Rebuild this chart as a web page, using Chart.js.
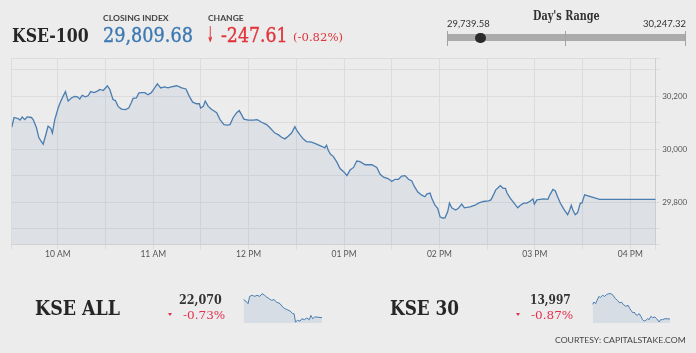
<!DOCTYPE html>
<html><head><meta charset="utf-8">
<script src="https://cdn.jsdelivr.net/npm/chart.js@4.4.1/dist/chart.umd.min.js"></script>
<style>
html,body{margin:0;padding:0;background:#ececec;width:696px;height:353px;overflow:hidden;}
#wrap{position:relative;width:696px;height:353px;}
canvas{position:absolute;}
.t{position:absolute;left:0;top:0;white-space:nowrap;line-height:1;transform-origin:0 0;z-index:5;}
.serif{font-family:'DejaVu Serif',serif;}
.sans{font-family:Lato,'Open Sans',sans-serif;}
.blk{position:absolute;}
.thick{-webkit-text-stroke:0.35px currentColor;}
</style></head><body>
<div id="wrap">
<canvas id="main" width="696" height="353" style="left:0;top:0"></canvas>
<canvas id="spAll" width="79" height="30" style="left:243px;top:293px"></canvas>
<canvas id="sp30" width="78" height="30" style="left:592px;top:293px"></canvas>

<div class="t serif" style="font-size:18px;font-weight:bold;color:#262626" data-x="11.7" data-b="42" data-w="76.6">KSE-100</div>
<div class="t sans" style="font-size:8px;font-weight:bold;color:#444" data-x="102.7" data-b="21" data-w="65.6">CLOSING INDEX</div>
<div class="t serif thick" style="font-size:19.5px;color:#3c78b2" data-x="102.7" data-b="41.7" data-w="90">29,809.68</div>
<div class="t sans" style="font-size:8px;font-weight:bold;color:#444" data-x="208.3" data-b="21" data-w="35.7">CHANGE</div>
<div class="t" style="font-family:'DejaVu Sans';font-size:22px;font-weight:bold;color:#e0343a" data-x="207.3" data-b="41.7" data-w="6.5">↓</div>
<div class="t serif thick" style="font-size:19.5px;color:#e0343a" data-x="220.7" data-b="41.7" data-w="66.6">-247.61</div>
<div class="t serif" style="font-size:11.5px;color:#e0343a" data-x="292.7" data-b="40.5" data-w="50">(-0.82%)</div>

<div class="t serif" style="font-size:12px;font-weight:bold;color:#333" data-x="533.3" data-b="20" data-w="66.7">Day's Range</div>
<div class="t sans" style="font-size:9px;color:#333" data-x="447.3" data-b="27.3" data-w="42.7">29,739.58</div>
<div class="t sans" style="font-size:9px;color:#333" data-x="642.7" data-b="27.3" data-w="43">30,247.32</div>
<div class="blk" style="left:447.3px;top:34.3px;width:238.4px;height:6.7px;background:#ababab"></div>
<div class="blk" style="left:447px;top:30.7px;width:1.2px;height:15px;background:#a3a3a3"></div>
<div class="blk" style="left:565.2px;top:30.7px;width:1.2px;height:15px;background:#a3a3a3"></div>
<div class="blk" style="left:684.8px;top:30.7px;width:1.2px;height:15px;background:#a3a3a3"></div>
<div class="blk" id="dot" style="width:10.6px;height:10.6px;border-radius:50%;background:#2b2b2b"></div>

<div class="t serif" style="font-size:21px;font-weight:bold;color:#262626" data-x="35" data-b="314.5" data-w="85">KSE ALL</div>
<div class="t serif" style="font-size:12.5px;font-weight:bold;color:#333" data-x="179" data-b="304" data-w="42.7">22,070</div>
<div class="blk" style="left:168px;top:312.5px;width:0;height:0;border-left:2.6px solid transparent;border-right:2.6px solid transparent;border-top:3.4px solid #e6304f"></div>
<div class="t serif" style="font-size:11.5px;color:#e6304f" data-x="182.7" data-b="318.5" data-w="42.3">-0.73%</div>

<div class="t serif" style="font-size:21px;font-weight:bold;color:#262626" data-x="390" data-b="314.5" data-w="69">KSE 30</div>
<div class="t serif" style="font-size:12.5px;font-weight:bold;color:#333" data-x="530" data-b="304" data-w="40.7">13,997</div>
<div class="blk" style="left:515.8px;top:312.5px;width:0;height:0;border-left:2.6px solid transparent;border-right:2.6px solid transparent;border-top:3.4px solid #e6304f"></div>
<div class="t serif" style="font-size:11.5px;color:#e6304f" data-x="531" data-b="318.5" data-w="42.3">-0.87%</div>

<div class="t sans" style="font-size:7.5px;color:#444" data-x="555" data-b="342.7" data-w="130.7">COURTESY: CAPITALSTAKE.COM</div>
</div>
<script>
// ---------- DATA ----------
// KSE-100 intraday (minutes since midnight)
const mainTimes = [
 571,572.5,575,576.3,577.6,579.3,580.7,583.4,584.5,586.6,
 588.1,589.7,590.8,592.2,593.9,595.6,596.6,598.1,600.2,601.9,
 603.3,604.8,606.5,608.5,610.7,612.3,613.8,615.3,617.3,619,
 620.7,622.8,624.9,626.4,628.5,631.2,632.7,634.7,636.2,637.9,
 640,642.5,644.6,646.2,647.3,649.4,650.9,652.5,654.7,656.7,
 658.8,660.9,662.6,664.7,667.2,669.3,671.4,674.8,677.9,680.6,
 682.7,684.8,687.3,689,689.8,691.5,692.7,694.6,696.8,699.9,
 702,704.5,706.6,708.3,710.3,712.5,714.1,715.6,717,719.7,
 722.9,725.4,728.2,731.3,733.4,736.5,738.6,740.7,742.8,744.9,
 747,749.1,750.5,752.2,754.3,756.4,759.6,762.7,765.9,767.9,
 769,770,771.5,773.2,775.5,777.5,780.1,781.8,783.8,786,
 788,790.1,793.3,797.5,800.6,802.7,804.8,808,810,812.1,
 814.2,816.3,818.4,820.5,822.6,824.3,826.4,828.9,830.9,832,
 834.1,835.2,837.2,838.9,840.4,841.9,843.5,845.2,846.3,847.7,
 850.2,851.9,854,855.7,859.2,862.4,864.5,867.6,870.8,872.4,
 873.9,875.4,878.3,880,881.5,882.5,884.6,886.7,889.2,890.9,
 893,895,897.2,898.8,899.7,901.3,903.4,905.5,908.2,909.7,
 911.4,912.9,914.3,916,918.1,920.6,921.9,922.9,923.9,925.4,
 926.9,928.6,929.6,931.3,940.7,976
];
const mainValues = [
 30083,30120,30116,30110,30122,30112,30122,30120,30112,30081,
 30043,30029,30019,30049,30087,30079,30061,30112,30156,30182,
 30200,30218,30182,30194,30200,30198,30190,30204,30198,30202,
 30218,30214,30220,30226,30222,30240,30226,30188,30184,30162,
 30152,30150,30156,30176,30192,30194,30212,30214,30214,30206,
 30214,30232,30247.32,30232,30236,30232,30236,30240,30232,30228,
 30200,30178,30172,30172,30156,30162,30182,30162,30150,30138,
 30112,30093,30091,30093,30120,30138,30146,30130,30114,30110,
 30110,30112,30102,30093,30081,30061,30055,30045,30039,30049,
 30061,30085,30069,30055,30039,30029,30027,30019,30011,30005,
 30015,29997,29981,29973,29951,29927,29913,29900,29921,29931,
 29955,29953,29941,29941,29931,29905,29894,29888,29878,29886,
 29886,29898,29900,29886,29880,29858,29838,29826,29820,29830,
 29834,29814,29788,29776,29744,29739.58,29740,29764,29796,29778,
 29770,29776,29792,29778,29782,29788,29796,29802,29804,29808,
 29826,29846,29862,29852,29852,29834,29814,29798,29778,29788,
 29796,29796,29804,29812,29792,29808,29810,29812,29810,29830,
 29848,29842,29820,29796,29774,29752,29770,29788,29770,29752,
 29760,29796,29796,29827,29809.68,29809.68
];
const hourTimes = [600,660,720,780,840,900,960];
const hourLabels = ['10 AM','11 AM','12 PM','01 PM','02 PM','03 PM','04 PM'];
const halfHourTimes = [600,630,660,690,720,750,780,810,840,870,900,930,960];
const yGridValues = [29700,29800,29900,30000,30100,30200,30300];
const xMin = 571, xMax = 976, yMin = 29640, yMax = 30344;

const dayLow = 29739.58, dayHigh = 30247.32, closeValue = 29809.68;

// KSE ALL sparkline
const allTimes = [574,585,597,605,618,631,643,657,669,680,692,705,717,730,743,761,774,786,798,812,826,833,840,850,864,873,885,898,911,919,928,938,950,976];
const allValues = [22206,22196,22176,22230,22238,22230,22238,22230,22250,22240,22225,22213,22201,22206,22188,22176,22151,22139,22131,22122,22102,22102,22040,22052,22047,22065,22057,22070,22057,22089,22065,22077,22077,22072];
// KSE 30 sparkline
const k30Times = [574.5,581,590,597,607.5,614,625,637,646,658,669,680.5,692.7,703,715,724,732.6,746.5,758.7,767.4,776,784.8,790,797,805.6,816,824.8,833.4,842,850.8,859.5,868,877,885.6,897.8,906.5,920,927,937.7,950,976];
const k30Values = [14086,14100,14090,14110,14134,14126,14140,14134,14144,14150,14150,14140,14120,14110,14094,14100,14086,14074,14080,14060,14046,14034,14040,14026,14020,14030,14014,13994,13986,13990,14000,13994,14014,14006,14010,14000,13980,13994,13994,14000,13998];

// ---------- TEXT PLACEMENT ----------
function place(){
  document.querySelectorAll('.t').forEach(el=>{
    el.style.transform='none';
    let m=el.querySelector('.bm');
    if(!m){m=document.createElement('span');m.className='bm';m.style.cssText='display:inline-block;width:0;height:0;vertical-align:baseline';el.appendChild(m);}
    const base=m.offsetTop;
    const w=el.getBoundingClientRect().width;
    const tw=parseFloat(el.dataset.w);
    const s=tw?tw/w:1;
    el.style.transform='scaleX('+s+')';
    el.style.left=el.dataset.x+'px';
    el.style.top=(parseFloat(el.dataset.b)-base)+'px';
  });
  const dot=document.getElementById('dot');
  const cx=447.3+(closeValue-dayLow)/(dayHigh-dayLow)*238.4;
  dot.style.left=(cx-5.3)+'px'; dot.style.top=(37.8-5.3)+'px';
}
place();
if(document.fonts&&document.fonts.ready){document.fonts.ready.then(place);}

// ---------- MAIN CHART ----------
const lineColor='#4a7db0';
new Chart(document.getElementById('main'),{
  type:'line',
  data:{datasets:[{
    data:mainTimes.map((t,i)=>({x:t,y:mainValues[i]})),
    borderColor:lineColor,borderWidth:1.3,
    backgroundColor:'rgba(74,126,176,0.09)',fill:'start',
    pointRadius:0,tension:0
  }]},
  options:{
    responsive:false,animation:false,events:[],
    layout:{padding:{left:11.7,right:4.3,top:58.3,bottom:92.7}},
    plugins:{legend:{display:false},tooltip:{enabled:false}},
    scales:{
      x:{type:'linear',min:xMin,max:xMax,
        afterBuildTicks:s=>{s.ticks=[xMin,...halfHourTimes,xMax].map(v=>({value:v}));},
        ticks:{autoSkip:false,maxRotation:0,minRotation:0,padding:0,
          font:{family:'Lato',size:8.5},color:'#555',
          callback:v=>{const i=hourTimes.indexOf(v);return i>=0?hourLabels[i]:'';}},
        grid:{color:'#dcdcdc',lineWidth:1,tickLength:5},
        border:{display:true,color:'#d0d0d0'},
        afterFit:s=>{s.height=16;}
      },
      y:{position:'right',min:yMin,max:yMax,
        afterBuildTicks:s=>{s.ticks=[yMin,...yGridValues,yMax].map(v=>({value:v}));},
        ticks:{padding:2.5,font:{family:'Lato',size:8},color:'#555',
          callback:v=>(v%200===0)?v.toLocaleString('en-US'):''},
        grid:{color:'#dcdcdc',lineWidth:1,tickLength:4},
        border:{display:true,color:'#d0d0d0'},
        afterFit:s=>{s.width=36;}
      }
    }
  }
});

// ---------- SPARKLINES ----------
function spark(id,times,vals,ymin,ymax){
  new Chart(document.getElementById(id),{
    type:'line',
    data:{datasets:[{data:times.map((t,i)=>({x:t,y:vals[i]})),
      borderColor:lineColor,borderWidth:1,backgroundColor:'rgba(74,126,176,0.13)',
      fill:'start',pointRadius:0,tension:0}]},
    options:{responsive:false,animation:false,events:[],
      layout:{padding:0},
      plugins:{legend:{display:false},tooltip:{enabled:false}},
      scales:{x:{type:'linear',display:false,min:xMin,max:xMax},
              y:{display:false,min:ymin,max:ymax}}}
  });
}
spark('spAll',allTimes,allValues,22033,22255);
spark('sp30',k30Times,k30Values,13974,14154);
</script>
</body></html>
